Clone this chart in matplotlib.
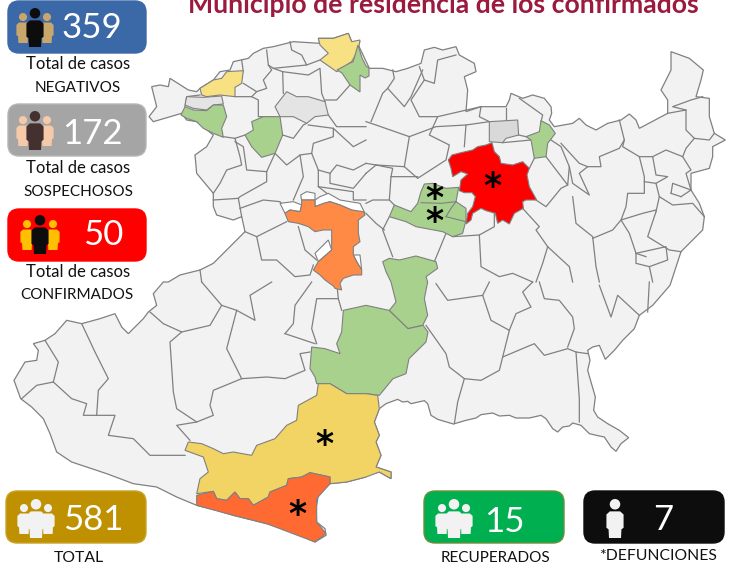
import matplotlib
matplotlib.use('Agg')
import matplotlib.pyplot as plt
from matplotlib.patches import Polygon, FancyBboxPatch, Circle

plt.rcParams['font.family'] = ['Lato', 'DejaVu Sans']

NW, NE, SW, SE = (0, 0), (366, 0), (0, 282), (366, 282)
MID = (260, 180)

outline_sw1 = [(42,295),(62,350),(95,375),(130,410),(150,455),(170,510),(215,540),(260,555),(320,575),(400,605),(470,615),(530,645),(590,670),(650,685),(700,700),(800,725),(870,745),(945,780),(978,760),(975,740),(950,720),(948,680),(955,640),(990,605),(1040,600),(1098,585)]
outline_se = [(0,580),(40,570),(75,590),(75,570),(30,555),(45,520),(30,480),(40,460),(25,420),(40,380),(60,365),(95,352),(110,360),(125,358),(135,365),(175,356),(185,365),(195,400),(215,412),(235,418),(262,426),(300,415),(330,408),(345,398),(380,393),(400,402),(430,400),(450,408),(490,408),(525,400),(540,410),(560,440),(575,450),(590,435),(610,432),(620,423),(645,430),(670,455),(700,462),(715,465),(735,495),(750,508),(765,485),(788,467),(760,445),(725,425),(695,405),(683,385),(688,345),(675,300),(665,265),(672,235),(665,205),(680,195),(700,190),(718,232),(745,205),(770,175),(805,140),(820,100),(860,70),(912,10)]
outline_ne = [(945,755),(1010,690),(1015,650),(1000,610),(975,570),(975,520),(1030,505),(1040,470),(1040,440),(1078,420),(1045,400),(1030,350),(1030,295),(990,290),(1005,240),(1012,210),(970,175),(915,155),(915,210),(885,270),(905,300),(905,340),(820,385),(810,360),(790,342),(765,360),(725,370),(690,390),(660,375),(640,355),(620,370),(565,380),(550,360),(557,340),(555,320),(535,295),(500,285),(470,295),(435,280),(430,300),(420,320),(345,320),(300,335),(305,270),(295,230),(330,215),(325,190),(280,165),(270,140),(230,150),(205,142),(175,150),(165,190),(125,205),(90,215),(50,205),(10,205)]
outline_nw = [(1075,135),(1080,125),(1055,125),(1045,100),(1000,115),(955,115),(960,130),(880,125),(820,140),(790,145),(760,160),(745,175),(700,185),(690,210),(660,215),(640,240),(600,265),(590,275),(565,270),(510,235),(505,260),(480,255),(455,260),(470,320),(447,350),(460,365),(545,340),(560,360),(590,365),(640,405),(620,440),(585,465),(590,520),(640,580),(640,620),(650,645),(700,660),(725,650),(735,695),(685,745),(640,790),(600,810),(540,825),(505,846)]
outline_sw2 = [(490,0),(460,35),(470,70),(445,90),(430,110),(385,155),(365,135),(345,95),(300,110),(245,125),(200,115),(165,155),(135,175),(100,185),(115,205),(110,235),(75,240)]

borders_nw = [
    [(555,320),(560,290),(600,285)],
    [(730,215),(725,180)],
    [(730,250),(770,275),(800,265),(790,240),(815,210),(805,195),(800,150)],
    [(805,195),(820,205),(920,195),(905,165),(875,150),(870,125)],
    [(920,195),(960,180)],
    [(820,205),(848,215),(850,280)],
    [(848,215),(925,225),(960,205),(965,280),(975,305)],
    [(705,290),(755,290),(775,300),(775,350),(825,350)],
    [(755,290),(770,275)],
    [(985,345),(1010,380),(1098,380)],
    [(975,300),(1010,300),(1050,255)],
    [(670,410),(705,415),(720,470),(725,495),(680,510),(660,550),(640,580)],
    [(705,415),(735,405)],
    [(705,425),(730,440),(740,510),(800,515),(825,460)],
    [(800,515),(800,545),(720,590),(715,595),(725,650)],
    [(640,600),(715,595)],
    [(825,460),(860,495),(900,465),(910,530),(880,600)],
    [(900,465),(935,460),(955,510),(955,560),(1000,595)],
    [(848,405),(880,415),(910,375),(920,370)],
    [(925,375),(1000,385),(1000,410),(940,430),(935,460)],
    [(955,510),(990,520),(1010,495),(1060,510),(1098,490)],
    [(990,520),(990,550),(1060,565),(1098,520)],
    [(955,560),(1060,575),(1060,600),(1098,600)],
    [(1000,385),(1060,440),(1098,420)],
    [(720,625),(790,600),(840,605),(865,640)],
    [(860,665),(770,710),(735,695)],
    [(770,710),(785,780),(830,780),(885,830),(930,825),(940,795)],
    [(895,680),(915,750),(950,780)],
    [(600,810),(605,846)],
]
borders_ne = [
    [(0,365),(30,375),(130,410),(210,380),(300,375),(370,365)],
    [(130,410),(115,500),(155,535),(240,480),(250,435),(190,405),(215,350),(345,320)],
    [(300,375),(295,440)],
    [(345,320),(340,350),(370,365)],
    [(420,325),(420,360)],
    [(458,405),(480,410)],
    [(460,295),(530,345),(525,365)],
    [(410,428),(495,420)],
    [(505,475),(490,505)],
    [(540,470),(605,555),(610,500),(585,440),(555,420)],
    [(585,430),(640,490),(665,500),(705,500),(700,470),(760,445),(775,420),(760,360)],
    [(610,500),(620,550),(670,585),(640,520),(665,500)],
    [(510,600),(540,620),(585,565),(605,555)],
    [(470,625),(520,680),(510,690),(545,740),(610,800),(620,846)],
    [(620,590),(630,670),(680,710),(690,800),(700,846)],
    [(680,715),(740,690),(765,660),(790,700),(810,760),(840,770)],
    [(775,420),(770,440),(820,470),(835,530),(835,580),(785,580),(780,620),(765,660),(830,640),(870,630)],
    [(820,470),(860,470),(900,450),(950,470),(975,510),(960,520),(975,570),(945,590)],
    [(860,470),(870,525),(905,530),(870,550)],
    [(835,545),(870,550),(880,590),(920,615),(980,610),(1015,650)],
    [(870,635),(845,710),(910,750),(945,755)],
    [(880,590),(870,635)],
    [(810,760),(900,740),(905,780),(850,800),(810,790),(810,760)],
    [(850,800),(860,846)],
    [(915,580),(945,590)],
    [(915,580),(920,550),(975,570)],
    [(950,470),(960,445),(985,415),(1030,420),(1045,400)],
    [(985,415),(960,390),(960,330),(905,340)],
    [(960,330),(920,320),(975,300),(1010,290)],
    [(0,490),(30,495),(115,500)],
    [(30,495),(80,505),(75,530),(155,530)],
    [(75,530),(70,600),(85,615)],
    [(30,495),(0,520)],
    [(0,610),(20,600),(70,600)],
    [(70,650),(50,690),(80,770)],
    [(0,640),(30,670),(55,690)],
    [(240,700),(205,785)],
    [(260,710),(340,705),(385,680),(385,640)],
    [(340,705),(345,800),(400,830),(440,820),(500,846)],
    [(545,740),(530,790),(510,846)],
    [(80,210),(85,235),(65,265),(50,280),(15,365)],
    [(65,265),(115,320),(135,290),(170,210)],
    [(160,200),(175,240),(135,300),(160,350),(215,350)],
    [(175,240),(205,250),(215,180),(270,165)],
]
borders_sw = [
    [(605,0),(665,70),(710,85),(765,115),(750,40),(815,0)],
    [(665,70),(630,130),(545,150),(490,125),(450,90)],
    [(710,85),(680,200),(725,290),(640,325),(630,370),(640,400),(590,420),(530,380),(520,330),(510,180),(545,150)],
    [(725,290),(800,285),(855,290),(915,265),(900,215),(930,210)],
    [(590,420),(530,430),(570,475)],
    [(160,300),(110,310),(65,350)],
    [(160,300),(215,350),(260,365),(250,400),(290,400),(345,400),(325,460),(400,470),(450,520),(520,520),(555,520)],
    [(135,175),(175,240),(160,300)],
    [(245,125),(285,210),(325,290),(295,325),(290,400)],
    [(855,155),(880,125),(885,70),(935,0)],
    [(855,155),(945,185)],
    [(950,185),(935,140),(950,50),(1015,50),(1025,85)],
    [(1010,0),(1015,50)],
]
borders_se = [
    [(180,130),(240,215),(250,255),(295,290),(345,295),(400,265),(410,225),(505,185),(535,220),(605,200),(630,210),(665,215)],
    [(295,290),(275,360),(265,425)],
    [(630,210),(640,350),(640,420)],
    [(410,225),(430,145),(375,115),(350,40),(245,55),(210,5)],
    [(350,40),(370,0)],
    [(430,145),(450,95),(495,75),(470,30),(500,0)],
    [(520,0),(535,50),(580,55),(620,105),(625,140),(605,195)],
    [(700,10),(735,105),(755,40),(820,100)],
    [(850,0),(845,90)],
]

# filled municipalities, colour + points
yellow_top = [(955,115),(1000,115),(1045,100),(1055,125),(1080,120),(1075,150),(1055,185),(1010,215),(960,180),(985,160),(960,135)]
yellow_left = [(600,265),(640,240),(665,235),(680,215),(730,212),(725,250),(705,262),(705,290),(660,285),(620,290),(605,285)]
gray_a = [(560,290),(610,292),(665,288),(670,312),(640,315),(620,330),(580,325),(555,315)]
green_left = [(543,345),(555,320),(580,330),(620,332),(640,315),(670,315),(680,350),(665,385),(670,412),(640,400),(610,385),(590,365),(560,355)]
gray_b = [(825,320),(860,275),(890,290),(925,290),(975,305),(985,345),(945,350),(920,370),(880,350),(840,350)]
green_center = [(735,405),(760,390),(755,365),(790,350),(840,350),(848,405),(825,460),(785,472),(755,440)]
green_north = [(1074,135),(1086,174),(1098,198),(1107,204),(1107,228),(1095,234),(1080,225),(1080,276),(1050,255),(1026,219),(1011,210),(1050,189),(1059,186)]
red_main = [(247,480),(258,465),(285,458),(320,450),(335,440),(360,435),(378,428),(385,455),(400,470),(405,490),(440,495),(470,485),(490,505),(483,525),(490,560),(512,600),(480,600),(470,605),(472,625),(445,640),(430,672),(410,660),(395,670),(388,640),(360,632),(345,625),(320,640),(315,660),(300,672),(305,640),(320,620),(328,590),(318,578),(295,578),(280,572),(285,540),(305,522),(285,515),(260,530),(255,505)]
green_pair = [(70,650),(85,615),(135,635),(155,610),(165,575),(175,552),(200,550),(240,565),(278,562),(270,605),(300,625),(300,660),(290,700),(260,710),(230,695),(150,680),(120,665)]
green_east = [(480,410),(520,395),(525,362),(550,375),(568,400),(545,430),(540,470),(505,475),(495,420)]
gray_c = [(370,365),(455,360),(458,405),(420,415),(410,428),(370,425)]
green_long = [(50,785),(70,775),(100,780),(150,768),(210,785),(215,805),(180,830),(185,846),(175,896),(185,946),(170,976),(125,986),(70,931),(90,906),(75,846),(60,815)]
green_big_sw = [(930,260),(935,195),(975,200),(1020,215),(1010,185),(1025,150),(1030,85),(1098,70),(1167,85),(1224,140),(1269,130),(1284,150),(1278,180),(1227,230),(1218,275),(1179,290),(1138,340),(1098,335),(1040,335),(990,305),(950,305),(945,285)]
yellow_big = [(555,505),(565,480),(605,485),(640,500),(670,515),(700,510),(755,520),(770,490),(825,470),(860,430),(890,415),(895,370),(950,340),(955,305),(990,305),(1040,335),(1098,335),(1133,340),(1138,380),(1123,420),(1138,460),(1128,480),(1143,520),(1128,555),(1173,570),(1173,590),(1138,570),(1098,585),(1040,600),(990,605),(990,585),(930,572),(905,585),(865,590),(860,610),(810,630),(805,645),(760,670),(745,650),(720,650),(705,630),(680,655),(650,650),(640,628),(590,635),(600,590),(625,570),(610,525)]
coral = [(590,640),(640,628),(650,650),(680,655),(705,630),(720,650),(745,650),(760,670),(805,645),(810,630),(860,610),(865,590),(905,585),(930,572),(990,585),(990,605),(950,650),(950,720),(978,755),(945,780),(800,725),(700,700),(590,670)]
orange = [(75,100),(90,90),(120,95),(125,75),(125,60),(165,60),(165,80),(190,70),(210,65),(240,75),(275,90),(310,95),(315,105),(295,120),(295,160),(300,185),(280,200),(280,225),(290,245),(305,270),(305,285),(280,285),(250,295),(240,310),(245,330),(225,325),(220,318),(195,300),(180,285),(160,270),(175,245),(215,210),(215,150),(190,150),(165,155),(145,140),(115,130),(85,125)]
white_a = [(60,70),(100,65),(125,75),(120,95),(90,90),(75,100)]
white_b = [(122,45),(140,35),(165,40),(165,60),(125,60)]
white_c = [(165,60),(180,50),(205,40),(240,60),(300,70),(315,100),(275,90),(240,75),(210,65),(165,80)]
white_d = [(165,220),(205,180),(215,210),(175,245)]
white_e = [(280,225),(300,225),(305,270),(290,245)]

# inner lines of the green pair, NE crop
green_inner = [[(165,608),(225,610),(270,605)], [(240,650),(255,625),(270,605)], [(240,650),(300,665)]]

shapes = [
    (yellow_top, NW, '#F7E183'), (yellow_left, NW, '#F7E183'), (gray_a, NW, '#E4E4E4'),
    (green_left, NW, '#A9D18E'), (gray_b, NW, '#E4E4E4'), (green_center, NW, '#A9D18E'),
    (green_north, NW, '#A9D18E'), (red_main, NE, '#FF0000'), (green_pair, NE, '#A9D18E'),
    (green_east, NE, '#A9D18E'), (gray_c, NE, '#D9D9D9'), (green_long, NE, '#A9D18E'),
    (green_big_sw, SW, '#A9D18E'), (yellow_big, SW, '#F2D464'), (coral, SW, '#FF6A33'),
    (white_a, MID, 'white'), (white_b, MID, 'white'), (white_c, MID, 'white'),
    (white_d, MID, 'white'), (white_e, MID, 'white'), (orange, MID, '#FF8A45'),
]

star_x = [492, 434, 434, 324, 297]
star_y = [182, 194, 217, 440, 510]

# badges
counts = ['359', '172', '50', '581', '15', '7']
badge_colors = ['#3B68A7', '#A5A5A5', '#FF0000', '#BF9000', '#00B050', '#0D0D0D']
badge_edges = ['#3B68A7', '#B5B5B5', '#FF0000', '#C9A227', '#6B8E3A', '#0D0D0D']
badge_x = [8, 8, 8, 6, 424, 584]
badge_y = [1, 104, 209, 491, 491, 491]
badge_w = [138, 138, 138, 140, 140, 140]
count_x = [92, 92, 103, 93, 504, 663]
count_y = [28, 134, 235, 520, 522, 520]

# icon: x, y of head top, colour of the centre / side figures
icon_x = [35, 35, 40, 36, 454, 615]
icon_top = [8, 111, 215, 499, 499, 499]
icon_main = ['#0D0D0D', '#44302F', '#0D0D0D', '#F2F2F2', '#F2F2F2', '#F2F2F2']
icon_side = ['#C9A66B', '#F6C9A8', '#FFC000', '#F2F2F2', '#F2F2F2', None]
icon_gap = [12, 12, 13, 12, 12, 0]

labels = [('Total de casos', 78, 64, 12), ('NEGATIVOS', 78, 88, 11), ('Total de casos', 78, 168, 12),
          ('SOSPECHOSOS', 78, 192, 11), ('Total de casos', 78, 272, 12), ('CONFIRMADOS', 77, 295, 11),
          ('TOTAL', 79, 558, 11.3), ('RECUPERADOS', 496, 558, 11), ('*DEFUNCIONES', 658, 556, 11.3)]


def px(points, origin):
    return [(origin[0] + x / 3, origin[1] + y / 3) for x, y in points]


def person(ax, x, top, height, color, z=6):
    # head and a round shouldered body
    r = height * 0.135
    ax.add_patch(Circle((x, top + r), r, fc=color, ec='none', zorder=z))
    w = height * 0.22
    t = top + 2.35 * r
    b = top + height
    body = [(x - w * 0.6, t), (x + w * 0.6, t), (x + w, t + 0.08 * height), (x + w, t + 0.42 * height),
            (x + w * 0.75, t + 0.46 * height), (x + w * 0.7, b), (x - w * 0.7, b),
            (x - w * 0.75, t + 0.46 * height), (x - w, t + 0.42 * height), (x - w, t + 0.08 * height)]
    ax.add_patch(Polygon(body, closed=True, fc=color, ec='none', zorder=z))


fig = plt.figure(figsize=(7.32, 5.65), dpi=100)
ax = fig.add_axes([0, 0, 1, 1])
ax.set_xlim(0, 732)
ax.set_ylim(565, 0)
ax.axis('off')

state = px(outline_sw1, SW) + px(outline_se, SE) + px(outline_ne, NE) + px(outline_nw, NW) + px(outline_sw2, SW)
ax.add_patch(Polygon(state, closed=True, fc='#F2F2F2', ec='#808080', lw=0.9, zorder=1))

for group, origin in [(borders_nw, NW), (borders_ne, NE), (borders_sw, SW), (borders_se, SE)]:
    for line in group:
        pts = px(line, origin)
        ax.plot([p[0] for p in pts], [p[1] for p in pts], color='#808080', lw=0.9, zorder=2)

for pts, origin, color in shapes:
    ax.add_patch(Polygon(px(pts, origin), closed=True, fc=color, ec='#808080', lw=0.8, zorder=3))

for line in green_inner:
    pts = px(line, NE)
    ax.plot([p[0] for p in pts], [p[1] for p in pts], color='#808080', lw=0.8, zorder=4)

for x, y in zip(star_x, star_y):
    ax.text(x, y + 5, '*', fontsize=25, fontweight='bold', ha='center', va='center',
            family='DejaVu Sans', color='black', zorder=7)

for i in range(6):
    ax.add_patch(FancyBboxPatch((badge_x[i] + 11, badge_y[i] + 11), badge_w[i] - 22, 30,
                                boxstyle='round,pad=11,rounding_size=11', fc=badge_colors[i],
                                ec=badge_edges[i], lw=1, zorder=5))
    if icon_side[i]:
        person(ax, icon_x[i] - icon_gap[i], icon_top[i] + 5, 30, icon_side[i])
        person(ax, icon_x[i] + icon_gap[i], icon_top[i] + 5, 30, icon_side[i])
    person(ax, icon_x[i], icon_top[i], 39, icon_main[i], z=7)
    ax.text(count_x[i], count_y[i], counts[i], color='white', fontsize=25, ha='center', va='center', zorder=8)

for text, x, y, size in labels:
    ax.text(x, y, text, color='#111111', fontsize=size, ha='center', va='center')

ax.text(443, 5, 'Municipio de residencia de los confirmados', color='#9B1B3F', fontsize=19.2,
        fontweight='bold', ha='center', va='center')

fig.savefig('out.png', dpi=100)
